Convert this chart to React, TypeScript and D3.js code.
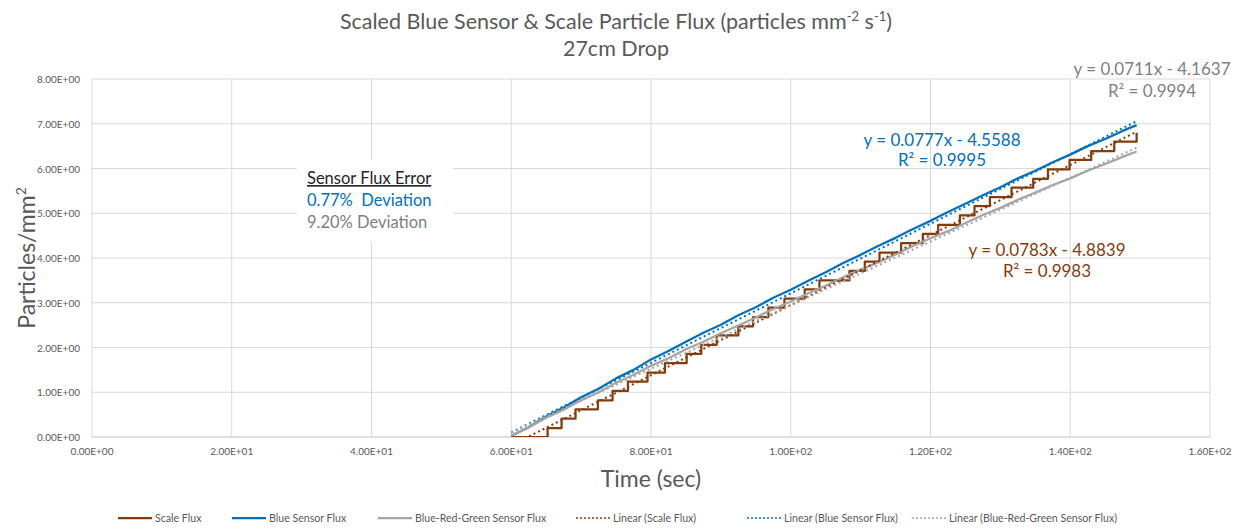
import React from 'react';
import * as d3 from 'd3';

// time (sec) at which the scale reading steps up, and the level it steps to
const scaleStepTimes = [65.2, 67.2, 69.2, 72.4, 74.5, 76.7, 79.5, 82.0, 85.1, 87.2, 89.4, 92.5, 94.6, 96.8, 99.1, 102.0, 104.1, 108.4, 110.6, 112.7, 115.8, 118.9, 121.1, 124.2, 126.3, 128.5, 131.6, 134.7, 136.8, 139.9, 143.0, 146.3, 149.5];
const scaleStepLevels = [0.2, 0.41, 0.62, 0.82, 1.03, 1.24, 1.44, 1.65, 1.86, 2.06, 2.27, 2.47, 2.68, 2.89, 3.09, 3.3, 3.5, 3.71, 3.92, 4.12, 4.33, 4.54, 4.74, 4.95, 5.16, 5.36, 5.57, 5.77, 5.98, 6.19, 6.39, 6.6, 6.8];

const sensorTimes = [60, 62.5, 65, 67.5, 70, 72.5, 75, 77.5, 80, 82.5, 85, 87.5, 90, 92.5, 95, 97.5, 100, 102.5, 105, 107.5, 110, 112.5, 115, 117.5, 120, 122.5, 125, 127.5, 130, 132.5, 135, 137.5, 140, 142.5, 145, 147.5, 149.5];
const blueSensor = [0.03, 0.22, 0.46, 0.66, 0.89, 1.08, 1.31, 1.5, 1.73, 1.92, 2.13, 2.33, 2.51, 2.72, 2.9, 3.11, 3.29, 3.49, 3.68, 3.89, 4.07, 4.27, 4.45, 4.65, 4.83, 5.03, 5.21, 5.4, 5.58, 5.78, 5.95, 6.14, 6.31, 6.5, 6.66, 6.84, 6.97];
const brgSensor = [0.03, 0.21, 0.43, 0.61, 0.82, 1.0, 1.21, 1.39, 1.59, 1.76, 1.96, 2.13, 2.32, 2.49, 2.67, 2.86, 3.03, 3.21, 3.38, 3.57, 3.74, 3.9, 4.08, 4.27, 4.44, 4.6, 4.78, 4.96, 5.12, 5.3, 5.46, 5.63, 5.78, 5.95, 6.1, 6.26, 6.38];

// trendline coefficients (slope, intercept) as printed on the chart
const scaleFit = [0.0783, -4.8839];
const blueFit = [0.0777, -4.5588];
const brgFit = [0.0711, -4.1637];
const scaleR2 = '0.9983';
const blueR2 = '0.9995';
const brgR2 = '0.9994';

const xTicks = [0, 20, 40, 60, 80, 100, 120, 140, 160];
const yTicks = [0, 1, 2, 3, 4, 5, 6, 7, 8];

const BROWN = '#843C0C';
const BLUE = '#0070C0';
const GRAY = '#A5A5A5';
const TEXT = '#595959';
const FONT = 'Lato, "Open Sans", sans-serif';

const sci = (v: number) => {
  if (v === 0) return '0.00E+00';
  const e = Math.floor(Math.log10(Math.abs(v)));
  const m = v / Math.pow(10, e);
  return `${m.toFixed(2)}E${e < 0 ? '-' : '+'}${String(Math.abs(e)).padStart(2, '0')}`;
};

export default function App() {
  const x = d3.scaleLinear().domain([0, 160]).range([92, 1210]);
  const y = d3.scaleLinear().domain([0, 8]).range([437, 79]);

  const stepPts: [number, number][] = [[60, 0], ...scaleStepTimes.map((t, i) => [t, scaleStepLevels[i]] as [number, number])];
  const stepLine = d3.line<[number, number]>().x(d => x(d[0])).y(d => y(d[1])).curve(d3.curveStepAfter);
  const line = d3.line<[number, number]>().x(d => x(d[0])).y(d => y(d[1]));

  const trend = (f: number[], x0: number, x1: number) =>
    line([[x0, f[0] * x0 + f[1]], [x1, f[0] * x1 + f[1]]]) || '';

  const tStart = sensorTimes[0];
  const tEnd = sensorTimes[sensorTimes.length - 1];

  const legend = [
    { label: 'Scale Flux', color: BROWN, dash: null, x: 118 },
    { label: 'Blue Sensor Flux', color: BLUE, dash: null, x: 232 },
    { label: 'Blue-Red-Green Sensor Flux', color: GRAY, dash: null, x: 378 },
    { label: 'Linear (Scale Flux)', color: BROWN, dash: '2 2', x: 576 },
    { label: 'Linear (Blue Sensor Flux)', color: BLUE, dash: '2 2', x: 747 },
    { label: 'Linear (Blue-Red-Green Sensor Flux)', color: GRAY, dash: '2 2', x: 912 },
  ];

  const eq = (f: number[]) => `y = ${f[0]}x - ${Math.abs(f[1])}`;

  return (
    <svg width={1237} height={529} style={{ position: 'absolute', left: 0, top: 0, background: '#fff' }} fontFamily={FONT}>
      <defs>
        <clipPath id="plot">
          <rect x={92} y={79} width={1118} height={358} />
        </clipPath>
      </defs>
      <rect width={1237} height={529} fill="#fff" />

      {/* title */}
      <text x={616} y={29} textAnchor="middle" fontSize={21.5} fill={TEXT}>
        Scaled Blue Sensor &amp; Scale Particle Flux (particles mm
        <tspan fontSize={13} dy={-8}>-2</tspan>
        <tspan dy={8}> s</tspan>
        <tspan fontSize={13} dy={-8}>-1</tspan>
        <tspan dy={8}>)</tspan>
      </text>
      <text x={616} y={56} textAnchor="middle" fontSize={21.5} fill={TEXT}>27cm Drop</text>

      {/* grid */}
      {yTicks.map(t => (
        <line key={'gy' + t} x1={x(0)} x2={x(160)} y1={y(t)} y2={y(t)} stroke={t === 0 ? '#BFBFBF' : '#D9D9D9'} strokeWidth={1} />
      ))}
      {xTicks.map(t => (
        <line key={'gx' + t} x1={x(t)} x2={x(t)} y1={y(0)} y2={y(8)} stroke="#D9D9D9" strokeWidth={1} />
      ))}

      {/* tick labels */}
      {yTicks.map(t => (
        <text key={'ty' + t} x={80} y={y(t) + 4} textAnchor="end" fontSize={10} fill={TEXT}>{sci(t)}</text>
      ))}
      {xTicks.map(t => (
        <text key={'tx' + t} x={x(t)} y={455} textAnchor="middle" fontSize={10} fill={TEXT}>{sci(t)}</text>
      ))}

      {/* axis titles */}
      <text x={651} y={487} textAnchor="middle" fontSize={23} fill={TEXT}>Time (sec)</text>
      <text transform="translate(35,258) rotate(-90)" textAnchor="middle" fontSize={23} fill={TEXT}>
        Particles/mm<tspan fontSize={14} dy={-9}>2</tspan>
      </text>

      {/* text box */}
      <rect x={297} y={160} width={156} height={82} fill="#fff" />
      <text x={307} y={184} fontSize={16.5} fill="#262626" textDecoration="underline">Sensor Flux Error</text>
      <text x={307} y={206} fontSize={16.5} fill={BLUE} style={{ whiteSpace: 'pre' }}>{'0.77%  Deviation'}</text>
      <text x={307} y={228} fontSize={16.5} fill="#808080">9.20% Deviation</text>

      {/* series */}
      <g clipPath="url(#plot)" fill="none" strokeLinejoin="round">
        <path d={stepLine(stepPts) || ''} stroke={BROWN} strokeWidth={2.25} />
        <path d={line(sensorTimes.map((t, i) => [t, blueSensor[i]] as [number, number])) || ''} stroke={BLUE} strokeWidth={2.25} />
        <path d={line(sensorTimes.map((t, i) => [t, brgSensor[i]] as [number, number])) || ''} stroke={GRAY} strokeWidth={2.25} />
        <path d={trend(scaleFit, tStart, tEnd)} stroke={BROWN} strokeWidth={2} strokeDasharray="2 3" />
        <path d={trend(blueFit, tStart, tEnd)} stroke={BLUE} strokeWidth={2} strokeDasharray="2 3" />
        <path d={trend(brgFit, tStart, tEnd)} stroke={GRAY} strokeWidth={2} strokeDasharray="2 3" />
      </g>

      {/* trendline equations */}
      <g fontSize={17} textAnchor="middle">
        <text x={942} y={146} fill={BLUE}>{eq(blueFit)}</text>
        <text x={942} y={166} fill={BLUE}>R² = {blueR2}</text>
        <text x={1152} y={75} fill="#808080">{eq(brgFit)}</text>
        <text x={1152} y={97} fill="#808080">R² = {brgR2}</text>
        <text x={1047} y={256} fill={BROWN}>{eq(scaleFit)}</text>
        <text x={1047} y={277} fill={BROWN}>R² = {scaleR2}</text>
      </g>

      {/* legend */}
      {legend.map(l => (
        <g key={l.label}>
          <line x1={l.x} x2={l.x + 34} y1={518} y2={518} stroke={l.color} strokeWidth={l.dash ? 1.5 : 2.25} strokeDasharray={l.dash || undefined} />
          <text x={l.x + 37} y={521.5} fontSize={10.6} fill={TEXT}>{l.label}</text>
        </g>
      ))}
    </svg>
  );
}
